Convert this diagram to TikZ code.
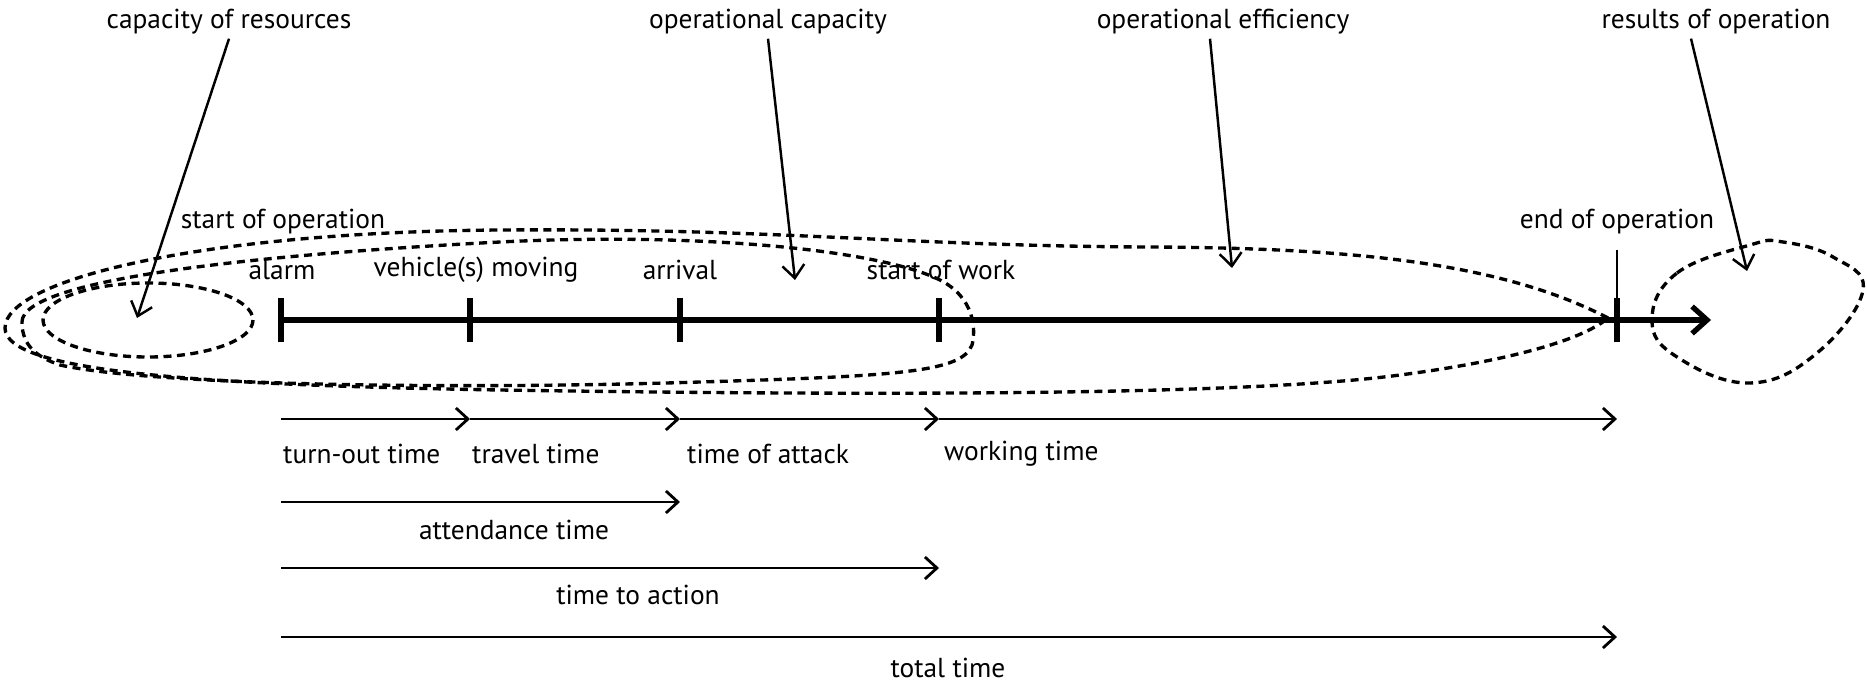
\documentclass[tikz,border=0pt]{standalone}
\usepackage{fontspec}
\setmainfont{PT Sans}
\usetikzlibrary{arrows.meta,calc,positioning}

\tikzset{
  lbl/.style={font=\fontsize{7.8}{9.4}\selectfont, inner sep=1pt},
  zone/.style={line width=0.95pt, dash pattern=on 0.8mm off 0.55mm},
  span/.style={line width=0.8pt, -{Straight Barb[length=1.2mm,width=2.2mm]}},
  pointer/.style={line width=0.7pt, -{Straight Barb[length=1.3mm,width=2.2mm]}},
  tick/.style={line width=1.5pt},
}

\begin{document}
\begin{tikzpicture}[x=0.1mm, y=-0.1mm]
	\useasboundingbox (0,0) rectangle (1867,681);
	% events on the time line
	\coordinate (alarm) at (281,320);
	\coordinate (moving) at (470,320);
	\coordinate (arrival) at (680,320);
	\coordinate (work) at (939,320);
	\coordinate (stop) at (1617,320);
	\coordinate (tip) at (1711,320);
	\draw[tick, -{Straight Barb[length=1.5mm,width=2.7mm]}] (alarm) -- (tip);
	\foreach \p in {alarm,moving,arrival,work,stop}
		\draw[tick] ($(\p)+(0,-22)$) -- ($(\p)+(0,22)$);
	\draw[line width=0.7pt] (stop) -- ++(0,-70);
	\node[lbl] (lalarm) at (282,270) {alarm};
	\node[lbl] (lmoving) at (476,270) {vehicle(s) moving};
	\node[lbl] (larrival) at (680,270) {arrival};
	\node[lbl] (lwork) at (941,270) {start of work};
	\node[lbl] (lstart) at (283,222) {start of operation};
	\node[lbl] (lstop) at (1617,222) {end of operation};
	% areas
	\draw[zone] (148,320) ellipse [x radius=105, y radius=37];
	\draw[zone] (22,322) .. controls (22,280) and (250,255) .. (500,242)
		.. controls (700,232) and (880,250) .. (940,280)
		.. controls (975,298) and (976,330) .. (972,345)
		.. controls (962,372) and (900,376) .. (700,382)
		.. controls (450,390) and (150,385) .. (60,365)
		.. controls (30,355) and (22,340) .. (22,322);
	\draw[zone] (1608,318) .. controls (1500,262) and (1350,248) .. (1150,247)
		.. controls (900,246) and (780,228) .. (500,230)
		.. controls (200,232) and (5,280) .. (5,328)
		.. controls (5,372) and (200,385) .. (500,390)
		.. controls (900,396) and (1250,395) .. (1400,375)
		.. controls (1500,362) and (1580,342) .. (1608,318);
	\draw[zone] plot[smooth cycle, tension=0.7] coordinates {(1652,320) (1677,273) (1750,245)
		(1783,242) (1833,257) (1863,290) (1817,353) (1750,383) (1677,357)};
	% what each area stands for
	\node[lbl] (cap) at (229,22) {capacity of resources};
	\node[lbl] (opcap) at (768,22) {operational capacity};
	\node[lbl] (opeff) at (1223,22) {operational efficiency};
	\node[lbl] (res) at (1716,22) {results of operation};
	\coordinate (incap) at (137,318);
	\coordinate (inopcap) at (795,280);
	\coordinate (inopeff) at (1232,268);
	\coordinate (inres) at (1747,271);
	\draw[pointer] (cap.south) -- (incap);
	\draw[pointer] (opcap.south) -- (inopcap);
	\draw[pointer] ([xshift=-1.3mm]opeff.south) -- (inopeff);
	\draw[pointer] ([xshift=-2.5mm]res.south) -- (inres);
	% durations
	\coordinate (r1) at (0,419);
	\coordinate (r2) at (0,502);
	\coordinate (r3) at (0,568);
	\coordinate (r4) at (0,637);
	\draw[span] (alarm |- r1) -- (moving |- r1);
	\draw[span] (moving |- r1) -- (arrival |- r1);
	\draw[span] (arrival |- r1) -- (work |- r1);
	\draw[span] (work |- r1) -- (stop |- r1);
	\draw[span] (alarm |- r2) -- (arrival |- r2);
	\draw[span] (alarm |- r3) -- (work |- r3);
	\draw[span] (alarm |- r4) -- (stop |- r4);
	\node[lbl, anchor=west] (tturn) at (279,454) {turn-out time};
	\node[lbl, anchor=west] (ttravel) at (468,454) {travel time};
	\node[lbl, anchor=west] (tattack) at (683,454) {time of attack};
	\node[lbl, anchor=west] (tworking) at (940,454) {working time};
	\node[lbl] (tattend) at (514,530) {attendance time};
	\node[lbl] (taction) at (638,595) {time to action};
	\node[lbl] (ttotal) at (948,668) {total time};
\end{tikzpicture}
\end{document}
